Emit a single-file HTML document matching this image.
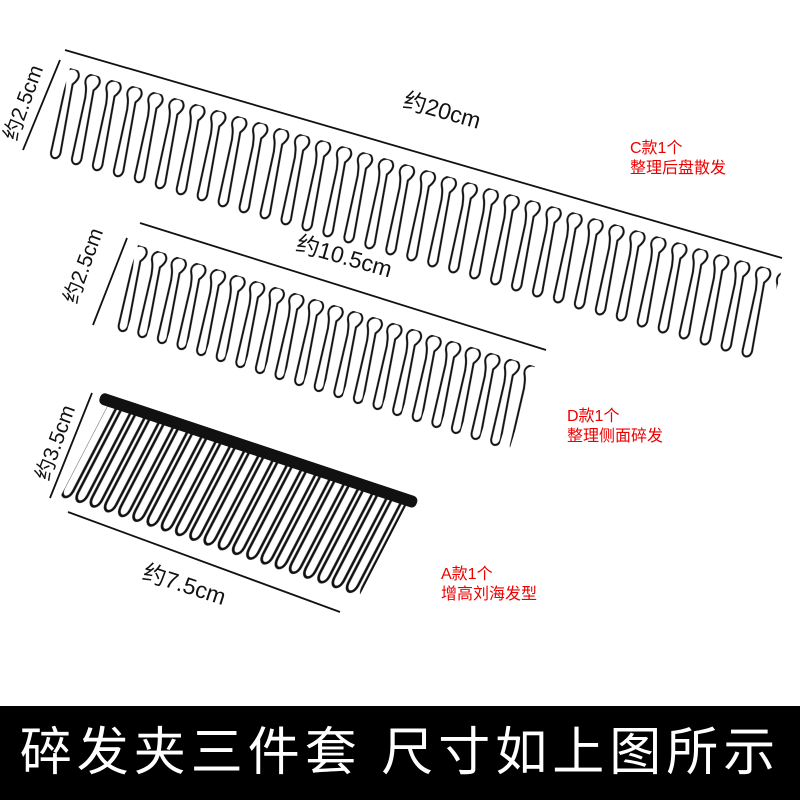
<!DOCTYPE html>
<html><head><meta charset="utf-8"><style>
html,body{margin:0;padding:0;background:#fff;}
body{width:800px;height:800px;overflow:hidden;position:relative;font-family:"Liberation Sans","Noto Sans CJK SC",sans-serif;}
svg{position:absolute;left:0;top:0;}
</style></head><body>
<svg width="800" height="800" viewBox="0 0 800 800" xmlns="http://www.w3.org/2000/svg">
<defs>
<pattern id="tc" patternUnits="userSpaceOnUse" width="21.8" height="110" x="-6" y="-2">
 <path d="M4,14 C-1,5 9,-1 14,3 C19,7 16,13 13,17 L20,84 C22,94 12,96 11,88 L7,26 C6,21 6,18 4,14 Z" fill="none" stroke="#111" stroke-width="2"/>
</pattern>
<pattern id="td" patternUnits="userSpaceOnUse" width="20.5" height="110" x="-6" y="-2">
 <path d="M4,14 C-1,5 9,-1 14,3 C19,7 16,13 13,17 L20,80 C22,90 12,92 11,84 L7,26 C6,21 6,18 4,14 Z" fill="none" stroke="#111" stroke-width="2"/>
</pattern>
<pattern id="ta" patternUnits="userSpaceOnUse" width="15" height="140" x="0" y="0">
 <path d="M3,0 L3,96 C3,108 13,108 13,96 L13,0" fill="none" stroke="#111" stroke-width="2.6"/>
</pattern>
</defs>

<!-- Comb C -->
<line x1="65" y1="50" x2="782" y2="258" stroke="#111" stroke-width="1.8"/>
<g transform="translate(70,68) rotate(16)">
 <rect x="0" y="0" width="740" height="100" fill="url(#tc)"/>
</g>
<line x1="60" y1="60" x2="23" y2="150" stroke="#111" stroke-width="1.8"/>
<text transform="translate(30,105) rotate(-70)" font-size="21" text-anchor="middle" fill="#111">约2.5cm</text>
<text transform="translate(440,118) rotate(16)" font-size="23" text-anchor="middle" fill="#111">约20cm</text>
<text x="630" y="153" font-size="16" fill="#e00">C款1个</text>
<text x="630" y="173" font-size="16" fill="#e00">整理后盘散发</text>

<!-- Comb D -->
<line x1="140" y1="223" x2="546" y2="350" stroke="#111" stroke-width="1.8"/>
<g transform="translate(138,245) rotate(17)">
 <rect x="0" y="0" width="415" height="96" fill="url(#td)"/>
</g>
<line x1="127" y1="238" x2="93" y2="325" stroke="#111" stroke-width="1.8"/>
<text transform="translate(90,268) rotate(-70)" font-size="21" text-anchor="middle" fill="#111">约2.5cm</text>
<text transform="translate(342,264) rotate(16)" font-size="23" text-anchor="middle" fill="#111">约10.5cm</text>
<text x="567" y="421" font-size="16" fill="#e00">D款1个</text>
<text x="567" y="441" font-size="16" fill="#e00">整理侧面碎发</text>

<!-- Comb A -->
<g transform="translate(106,400) rotate(18.4) skewX(-9)">
 <rect x="4" y="4" width="315" height="112" fill="url(#ta)"/>
</g>
<g transform="translate(104,398) rotate(18.4)">
 <rect x="-4" y="-5" width="334" height="12" rx="5" fill="#111"/>
</g>
<line x1="92" y1="393" x2="50" y2="498" stroke="#111" stroke-width="1.8"/>
<text transform="translate(62,445) rotate(-70)" font-size="21" text-anchor="middle" fill="#111">约3.5cm</text>
<line x1="68" y1="512" x2="340" y2="612" stroke="#111" stroke-width="1.8"/>
<text transform="translate(182,592) rotate(18)" font-size="23" text-anchor="middle" fill="#111">约7.5cm</text>
<text x="441" y="579" font-size="16" fill="#e00">A款1个</text>
<text x="441" y="599" font-size="16" fill="#e00">增高刘海发型</text>

<!-- bottom band -->
<rect x="0" y="706" width="800" height="94" fill="#000"/>
<text x="400" y="770" font-size="52" fill="#fff" text-anchor="middle" letter-spacing="5">碎发夹三件套 尺寸如上图所示</text>
</svg>
</body></html>
